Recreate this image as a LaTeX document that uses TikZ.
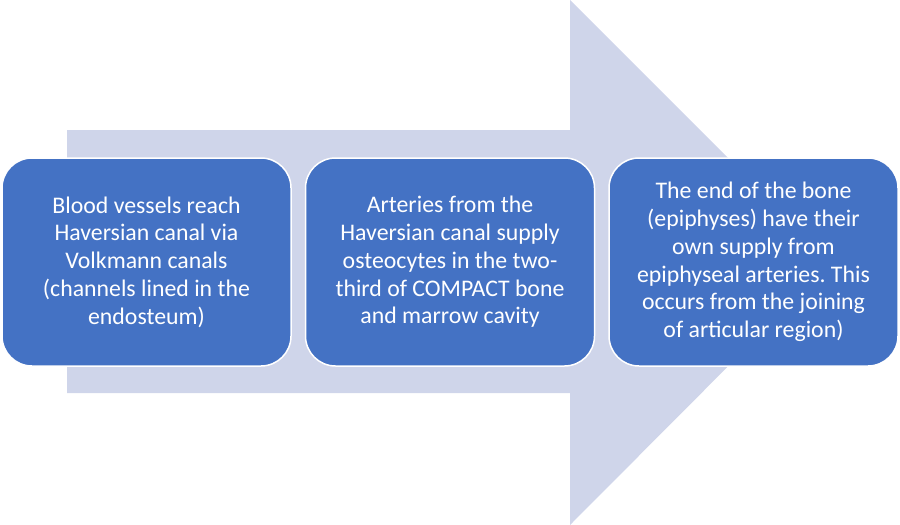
\documentclass[tikz,border=0pt]{standalone}
\usepackage{fontspec}
\setmainfont{Carlito}
\usepackage{tikz}
\usetikzlibrary{positioning}
\usepackage{xcolor}
\frenchspacing
\definecolor{arrowFill}{HTML}{CFD5EA}
\definecolor{boxFill}{HTML}{4472C4}
\def\boxW{289pt}
\def\boxH{208pt}
\def\boxGap{13pt}
\def\fScale{\fontsize{23.8pt}{27.8pt}\selectfont}
\tikzset{bigarrow/.style={fill=arrowFill,draw=none}}
\tikzset{stepbox/.style={fill=boxFill,draw=white,line width=1.5pt,rounded corners=30pt,minimum width=\boxW,minimum height=\boxH,align=center,text=white,inner sep=0pt,font=\fScale}}

\begin{document}
\begin{tikzpicture}[x=1pt,y=-1pt]\useasboundingbox (0,0) rectangle (900,525);
\coordinate(a1) at (67,130);\coordinate(a2) at (570,130);\coordinate(a3) at (570,0);\coordinate(a4) at (832,262);\coordinate(a5) at (570,525);\coordinate(a6) at (570,393);\coordinate(a7) at (67,393);
\fill[bigarrow](a1)--(a2)--(a3)--(a4)--(a5)--(a6)--(a7)--cycle;
\node[stepbox] (s1) at (146.5,262) {Blood vessels reach\\Haversian canal via\\Volkmann canals\\(channels lined in the\\endosteum)};
\node[stepbox,right=\boxGap of s1] (s2) {Arteries from the\\Haversian canal supply\\osteocytes in the two-\\third of COMPACT bone\\and marrow cavity};
\node[stepbox,right=\boxGap of s2] (s3) {The end of the bone\\(epiphyses) have their\\own supply from\\epiphyseal arteries. This\\occurs from the joining\\of articular region)};
\end{tikzpicture}
\end{document}
